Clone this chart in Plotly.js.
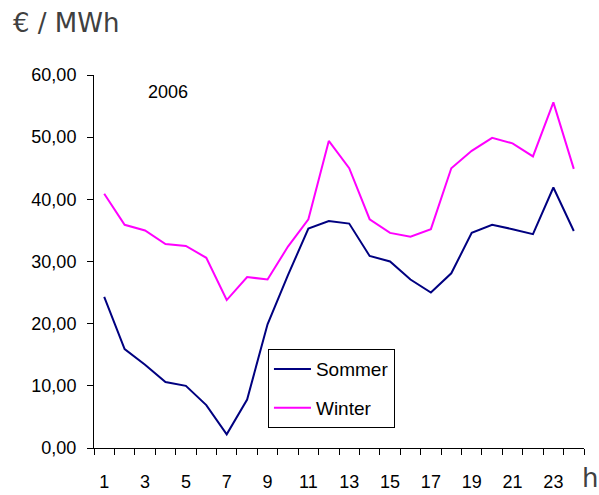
<!DOCTYPE html>
<html>
<head>
<meta charset="utf-8">
<script src="https://cdn.plot.ly/plotly-3.0.1.min.js"></script>
<style>html,body{margin:0;padding:0;background:#fff;}#chart{width:599px;height:495px;}</style>
</head>
<body>
<div id="chart"></div>
<script>
const hours = [1,2,3,4,5,6,7,8,9,10,11,12,13,14,15,16,17,18,19,20,21,22,23,24];
const sommer = [24.3,15.9,13.4,10.6,10.0,6.9,2.2,7.8,19.9,27.8,35.3,36.5,36.1,30.9,30.0,27.1,25.0,28.1,34.6,35.9,35.2,34.4,41.9,34.9];
const winter = [40.9,35.9,35.0,32.8,32.5,30.6,23.8,27.5,27.1,32.4,36.8,49.4,45.0,36.8,34.6,34.0,35.2,45.0,47.8,49.9,49.0,46.9,55.6,44.9];
const xTickVals = [1,3,5,7,9,11,13,15,17,19,21,23];
const xTickText = ["1","3","5","7","9","11","13","15","17","19","21","23"];
const seriesNames = ["Sommer","Winter"];
const yearLabel = "2006";
const yUnit = "€ / MWh";
const xUnit = "h";

const font = "Liberation Sans, Arial, sans-serif";
const traces = [
  {x: hours, y: sommer, name: seriesNames[0], type: 'scatter', mode: 'lines',
   line: {color: '#000080', width: 2}, legendgroup: 'a'},
  {x: hours, y: winter, name: seriesNames[1], type: 'scatter', mode: 'lines',
   line: {color: '#FF00FF', width: 2}, legendgroup: 'b'}
];
const layout = {
  width: 599, height: 495,
  margin: {l: 94, r: 15, t: 75, b: 47},
  paper_bgcolor: '#fff', plot_bgcolor: '#fff',
  separators: ',.',
  font: {family: font, size: 18, color: '#000'},
  showlegend: true,
  legend: {x: 0.355, y: 0.265, xanchor: 'left', yanchor: 'top',
    bordercolor: '#000', borderwidth: 1, bgcolor: '#fff',
    font: {family: font, size: 19, color: '#000'},
    itemwidth: 37,
    traceorder: 'grouped', tracegroupgap: 11},
  xaxis: {range: [0.5, 24.5], tickmode: 'array', tickvals: xTickVals, ticktext: xTickText,
    ticks: '', showgrid: false, zeroline: false, showline: true, linecolor: '#000', linewidth: 1,
    tickfont: {family: font, size: 18, color: '#000'},
    minor: {tickmode: 'linear', tick0: 0.5, dtick: 1, ticks: 'outside', ticklen: 6, tickcolor: '#000', showgrid: false},
    ticklabelstandoff: 17, fixedrange: true},
  yaxis: {range: [0, 60], dtick: 10, tick0: 0, tickformat: '.2f', ticks: 'outside', ticklen: 6,
    tickcolor: '#000', showgrid: false, zeroline: false, showline: true, linecolor: '#000', linewidth: 1,
    tickfont: {family: font, size: 18, color: '#000'}, ticklabelstandoff: 7, fixedrange: true},
  annotations: [
    {text: yUnit, xref: 'paper', yref: 'paper', x: -83/490, y: 1 + 52/373, xanchor: 'left', yanchor: 'middle',
      showarrow: false, font: {family: 'DejaVu Sans, sans-serif', size: 26, color: '#404040'}},
    {text: yearLabel, xref: 'paper', yref: 'paper', x: 52/490, y: 1 - 17/373, xanchor: 'left', yanchor: 'middle',
      showarrow: false, font: {family: font, size: 18, color: '#000'}},
    {text: xUnit, xref: 'paper', yref: 'paper', x: 1.0 + 6/490, y: -30/373, xanchor: 'center', yanchor: 'middle',
      showarrow: false, font: {family: 'DejaVu Sans, sans-serif', size: 26, color: '#404040'}}
  ]
};
Plotly.newPlot('chart', traces, layout, {displayModeBar: false, staticPlot: true});
</script>
</body>
</html>
